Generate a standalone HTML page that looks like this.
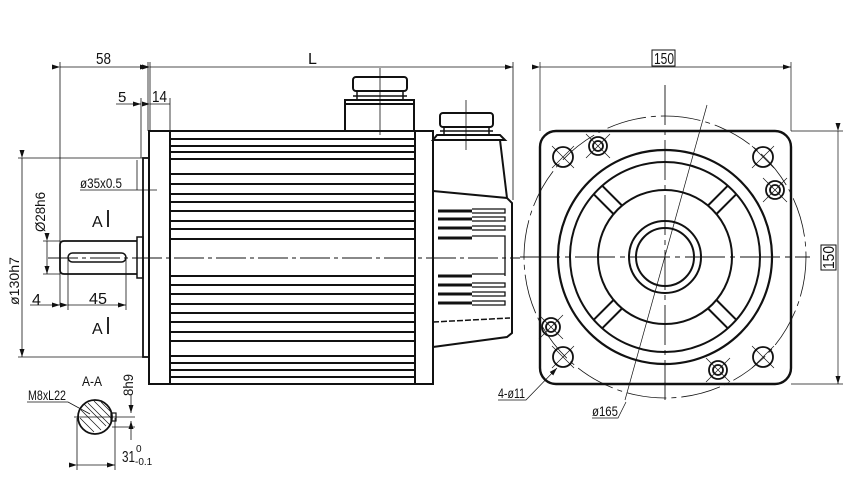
<!DOCTYPE html>
<html><head><meta charset="utf-8"><style>
html,body{margin:0;padding:0;background:#fff;}
svg{display:block;}
text{font-family:"Liberation Sans",sans-serif;fill:#111;}
</style></head><body>
<svg width="852" height="479" viewBox="0 0 852 479" xmlns="http://www.w3.org/2000/svg">
<defs>
<marker id="ar" markerWidth="8" markerHeight="6" refX="8" refY="3" orient="auto" markerUnits="userSpaceOnUse"><path d="M0,0.5 L8,3 L0,5.5 z" fill="#111"/></marker>
</defs>
<g stroke="#111" fill="none">
<rect x="149" y="131" width="21" height="253" stroke-width="2"/>
<rect x="143" y="158" width="6" height="199" stroke-width="1.8"/>
<rect x="137" y="237" width="6" height="41" stroke-width="1.5"/>
<path d="M137,241 H64 Q60,241 60,245 V270 Q60,274 64,274 H137" stroke-width="1.8"/>
<rect x="68" y="253" width="58" height="9" rx="4.5" stroke-width="1.5"/>
<path d="M170,131 H415 V384 H170" stroke-width="2"/>
<rect x="415" y="131" width="18" height="253" stroke-width="2"/>
<g stroke-width="2">
<path d="M170,139H415M170,146H415M170,152H415M170,159H415M170,174H415M170,184H415M170,194H415M170,202H415M170,211H415M170,221H415M170,229H415M170,239H415M170,276H415M170,285H415M170,294H415M170,304H415M170,313H415M170,322H415M170,332H415M170,341H415M170,356H415M170,363H415M170,370H415M170,377H415"/>
</g>
<rect x="353" y="77" width="54" height="14" rx="3" stroke-width="2"/>
<path d="M357,91 V100 M403,91 V100 M353,96 H407" stroke-width="1.5"/>
<rect x="345" y="100" width="69" height="31" stroke-width="2"/>
<path d="M345,104 H414" stroke-width="2"/>
<rect x="440" y="113" width="53" height="14" rx="3" stroke-width="2"/>
<path d="M444,127 V135 M489,127 V135 M440,131 H493" stroke-width="1.5"/>
<path d="M433,140 L437,135 H500 L505,140 Z" stroke-width="2"/>
<path d="M433,140 H500 L507,198 M433,191 L507,198 L512,203 V333 L507,337 L433,347" stroke-width="2"/>
<path d="M433,322 L510,318" stroke-width="1.5" stroke-dasharray="6,2"/>
<g stroke-width="3">
<path d="M438,211H472M438,219H472M438,228H472M438,238H472M438,276H472M438,285H472M438,294H472M438,303H472"/>
</g>
<g stroke-width="1.3">
<path d="M472,209H505V213H472M472,217H505V221H472M472,226H505V230H472M472,236H505V276 M472,274H505M472,283H505V287H472M472,292H505V296H472M472,301H505V305H472"/>
</g>
<path d="M48,258 H520" stroke-width="1" stroke-dasharray="30,4,4,4"/>
<path d="M380,68 V135 M466,100 V150" stroke-width="0.8"/>
<g stroke-width="0.8">
<path d="M60,62 V305 M148,62 V131 M150,62 V131 M513,62 V200"/>
<path d="M60,67 H148" marker-start="url(#ar)" marker-end="url(#ar)"/>
<path d="M150,67 H513" marker-start="url(#ar)" marker-end="url(#ar)"/>
<path d="M141,98 V158 M170,98 V131"/>
<path d="M116,104 H141" marker-end="url(#ar)"/>
<path d="M150,104 H170" marker-start="url(#ar)"/>
<path d="M18,158 H143 M18,357 H143"/>
<path d="M22,158 V357" marker-start="url(#ar)" marker-end="url(#ar)"/>
<path d="M43,241 H60 M43,274 H60"/>
<path d="M47,241 V274" marker-start="url(#ar)" marker-end="url(#ar)"/>
<path d="M80,190 H137 V160 M137,190 H157"/>
<path d="M68,258 V310 M126,258 V310"/>
<path d="M30,305 H60" marker-end="url(#ar)"/>
<path d="M68,305 H126" marker-start="url(#ar)" marker-end="url(#ar)"/>
</g>
<path d="M108,210 V227 M108,317 V334" stroke-width="1.8"/>
<circle cx="95" cy="417" r="17" stroke-width="1.8"/>
<g stroke-width="0.7">
<path d="M84,404 L106,426 M81,410 L101,430 M80,418 L94,432 M88,403 L110,425 M94,401 L112,419 M101,402 L112,413"/>
</g>
<rect x="111" y="413" width="5" height="8" stroke-width="1.2"/>
<g stroke-width="0.8">
<path d="M74,417 H135 M112,427 H135 M77,418 V470 M115,418 V470"/>
<path d="M131,395 V413" marker-end="url(#ar)"/>
<path d="M131,440 V421" marker-end="url(#ar)"/>
<path d="M77,465 H115" marker-start="url(#ar)" marker-end="url(#ar)"/>
<path d="M27,402 H68 L90,414"/>
</g>
<rect x="540" y="131" width="251" height="253" rx="16" stroke-width="2.4"/>
<circle cx="665" cy="257" r="107" stroke-width="2.2"/>
<circle cx="665" cy="257" r="95" stroke-width="2"/>
<circle cx="665" cy="257" r="67" stroke-width="2"/>
<circle cx="665" cy="257" r="36" stroke-width="2"/>
<circle cx="665" cy="257" r="29" stroke-width="2"/>
<circle cx="665" cy="257" r="141" stroke-width="0.8" stroke-dasharray="40,5,5,5"/>
<g stroke-width="2" transform="translate(665,257)">
<g transform="rotate(-45)"><path d="M-6,-67 V-95 M6,-67 V-95"/></g>
<g transform="rotate(45)"><path d="M-6,-67 V-95 M6,-67 V-95"/></g>
<g transform="rotate(135)"><path d="M-6,-67 V-95 M6,-67 V-95"/></g>
<g transform="rotate(-135)"><path d="M-6,-67 V-95 M6,-67 V-95"/></g>
</g>
<path d="M520,257 H810 M665,85 V400" stroke-width="0.9" stroke-dasharray="40,5,5,5"/>
<g stroke-width="1.8">
<circle cx="563" cy="157" r="10"/><circle cx="763" cy="157" r="10"/>
<circle cx="563" cy="357" r="10"/><circle cx="763" cy="357" r="10"/>
<circle cx="598" cy="146" r="9"/><circle cx="598" cy="146" r="5"/>
<circle cx="775" cy="190" r="9"/><circle cx="775" cy="190" r="5"/>
<circle cx="551" cy="327" r="9"/><circle cx="551" cy="327" r="5"/>
<circle cx="718" cy="370" r="9"/><circle cx="718" cy="370" r="5"/>
</g>
<g stroke-width="0.7">
<path d="M552,146 L574,168 M574,146 L552,168 M752,146 L774,168 M774,146 L752,168 M552,346 L574,368 M574,346 L552,368 M752,346 L774,368 M774,346 L752,368"/>
<path d="M586,134 L610,158 M586,158 L610,134 M763,178 L787,202 M763,202 L787,178 M539,315 L563,339 M539,339 L563,315 M706,358 L730,382 M706,382 L730,358"/>
<path d="M707,105 L625,400"/>
<path d="M540,62 V131 M791,62 V131 M791,131 H843 M791,384 H843"/>
<path d="M540,67 H791" marker-start="url(#ar)" marker-end="url(#ar)"/>
<path d="M838,131 V384" marker-start="url(#ar)" marker-end="url(#ar)"/>
<path d="M498,400 H526 L557,368" marker-end="url(#ar)"/>
<path d="M592,418 H618 L626,402"/>
</g>
<rect x="652" y="50" width="23" height="16" stroke-width="1"/>
<rect x="821" y="245" width="15" height="25" stroke-width="1"/>
</g>
<g font-size="16">
<text x="96" y="64" textLength="15" lengthAdjust="spacingAndGlyphs">58</text>
<text x="308" y="64">L</text>
<text x="118" y="102" font-size="15">5</text>
<text x="152" y="102" textLength="15" lengthAdjust="spacingAndGlyphs">14</text>
<text x="80" y="188" font-size="14" textLength="42" lengthAdjust="spacingAndGlyphs">ø35x0.5</text>
<text x="92" y="227">A</text>
<text x="92" y="334">A</text>
<text x="32" y="305">4</text>
<text x="89" y="304" textLength="18" lengthAdjust="spacingAndGlyphs">45</text>
<text transform="translate(19,305) rotate(-90)" font-size="14" textLength="48" lengthAdjust="spacingAndGlyphs">ø130h7</text>
<text transform="translate(45,232) rotate(-90)" font-size="14" textLength="40" lengthAdjust="spacingAndGlyphs">Ø28h6</text>
<text x="82" y="386" font-size="14" textLength="20" lengthAdjust="spacingAndGlyphs">A-A</text>
<text x="28" y="400" font-size="14" textLength="38" lengthAdjust="spacingAndGlyphs">M8xL22</text>
<text transform="translate(133,396) rotate(-90)" font-size="14" textLength="22" lengthAdjust="spacingAndGlyphs">8h9</text>
<text x="122" y="462" textLength="13" lengthAdjust="spacingAndGlyphs">31</text>
<text x="136" y="452" font-size="10">0</text>
<text x="135" y="465" font-size="10">-0.1</text>
<text x="654" y="64" textLength="20" lengthAdjust="spacingAndGlyphs">150</text>
<text transform="translate(834,269) rotate(-90)" textLength="23" lengthAdjust="spacingAndGlyphs">150</text>
<text x="498" y="398" font-size="14" textLength="27" lengthAdjust="spacingAndGlyphs">4-ø11</text>
<text x="592" y="416" font-size="14" textLength="26" lengthAdjust="spacingAndGlyphs">ø165</text>
</g>
</svg>
</body></html>
